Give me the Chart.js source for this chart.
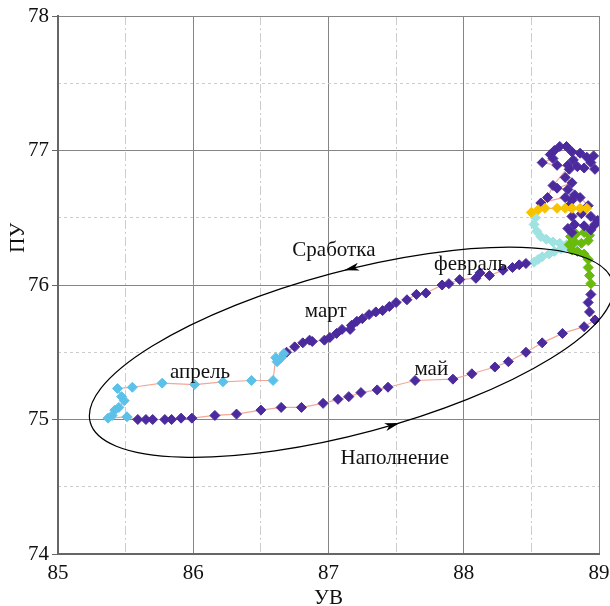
<!DOCTYPE html>
<html lang="ru">
<head>
<meta charset="utf-8">
<title>УВ – ПУ</title>
<script src="https://cdn.jsdelivr.net/npm/chart.js@4.4.0/dist/chart.umd.min.js"></script>
<style>
    html, body { margin: 0; padding: 0; background: #fff; }
    #loopChart { display: block; }
</style>
</head>
<body>
<canvas id="loopChart" width="610" height="606"></canvas>
<script>
// Tick values
const uvTicks = [85, 86, 87, 88, 89];
const puTicks = [74, 75, 76, 77, 78];
const uvMinor = [85.5, 86.5, 87.5, 88.5];
const puMinor = [74.5, 75.5, 76.5, 77.5];

// УВ / ПУ readings, in time order, split by period
const uvJan = [88.53, 88.52, 88.54, 88.57, 88.61, 88.66, 88.71, 88.76, 88.81, 88.77,
               88.72, 88.67, 88.63, 88.58, 88.55, 88.52];
const puJan = [76.50, 76.45, 76.40, 76.36, 76.34, 76.32, 76.31, 76.30, 76.30, 76.28,
               76.27, 76.25, 76.23, 76.21, 76.19, 76.17];

const uvFebMar = [88.46, 88.41, 88.36, 88.29, 88.19, 88.12, 88.09, 87.97, 87.89, 87.84,
                  87.72, 87.65, 87.58, 87.50, 87.45, 87.40, 87.35, 87.30, 87.25, 87.21,
                  87.17, 87.16, 87.10, 87.06, 87.01, 86.97, 86.88, 86.86, 86.81, 86.75, 86.69];
const puFebMar = [76.16, 76.15, 76.13, 76.11, 76.07, 76.09, 76.05, 76.04, 76.01, 76.00,
                  75.94, 75.93, 75.89, 75.87, 75.84, 75.81, 75.80, 75.78, 75.75, 75.73,
                  75.70, 75.67, 75.67, 75.64, 75.61, 75.59, 75.58, 75.59, 75.57, 75.54, 75.50];

const uvApr = [86.67, 86.65, 86.62, 86.61, 86.59, 86.43, 86.22, 86.01, 85.77, 85.55,
               85.44, 85.47, 85.49, 85.45, 85.42, 85.40, 85.37, 85.51];
const puApr = [75.49, 75.46, 75.43, 75.46, 75.29, 75.29, 75.28, 75.26, 75.27, 75.24,
               75.23, 75.17, 75.14, 75.09, 75.07, 75.03, 75.01, 75.02];

const uvMay = [85.59, 85.65, 85.70, 85.79, 85.84, 85.91, 85.99, 86.16, 86.32, 86.50,
               86.65, 86.80, 86.96, 87.07, 87.15, 87.24, 87.36, 87.44, 87.64, 87.92,
               88.06, 88.23, 88.33, 88.46, 88.58, 88.73, 88.89, 88.97, 88.93, 88.92, 88.94];
const puMay = [75.00, 75.00, 75.00, 75.00, 75.00, 75.01, 75.01, 75.03, 75.04, 75.07,
               75.09, 75.09, 75.12, 75.15, 75.17, 75.20, 75.22, 75.24, 75.29, 75.30,
               75.34, 75.39, 75.43, 75.50, 75.57, 75.64, 75.69, 75.74, 75.80, 75.87, 75.93];

const uvJun = [88.94, 88.93, 88.92, 88.92, 88.89, 88.84, 88.80, 88.78, 88.82, 88.87,
               88.92, 88.93, 88.89, 88.83, 88.79];
const puJun = [76.01, 76.07, 76.13, 76.19, 76.23, 76.25, 76.26, 76.30, 76.32, 76.31,
               76.33, 76.37, 76.39, 76.38, 76.36];

const uvJulNov = [88.77, 88.80, 88.82, 88.89, 88.94, 88.97, 88.99, 88.94, 88.87, 88.80,
                  88.78, 88.75, 88.80, 88.77, 88.69, 88.80, 88.75, 88.78, 88.77, 88.81,
                  88.80, 88.76, 88.71, 88.67, 88.64, 88.66, 88.58, 88.69, 88.84, 88.89,
                  88.97, 88.94, 88.96, 88.91, 88.86, 88.66, 88.62, 88.57, 88.82, 88.86, 88.92];
const puJulNov = [76.42, 76.39, 76.45, 76.44, 76.41, 76.45, 76.48, 76.51, 76.53, 76.51,
                  76.59, 76.65, 76.63, 76.71, 76.72, 76.76, 76.80, 76.86, 76.89, 76.93,
                  76.99, 77.03, 77.03, 77.00, 76.97, 76.94, 76.91, 76.89, 76.88, 76.87,
                  76.86, 76.91, 76.96, 76.95, 76.98, 76.74, 76.65, 76.61, 76.67, 76.65, 76.59];

const uvDec = [88.91, 88.86, 88.80, 88.75, 88.69, 88.60, 88.55, 88.50];
const puDec = [76.57, 76.57, 76.57, 76.57, 76.57, 76.57, 76.56, 76.54];

// Marker colour for each period
const periods = [
    { uv: uvJan,    pu: puJan,    color: '#9fe2e2' },
    { uv: uvFebMar, pu: puFebMar, color: '#4b2a9e' },
    { uv: uvApr,    pu: puApr,    color: '#5cc1e8' },
    { uv: uvMay,    pu: puMay,    color: '#4b2a9e' },
    { uv: uvJun,    pu: puJun,    color: '#68bb0c' },
    { uv: uvJulNov, pu: puJulNov, color: '#4b2a9e' },
    { uv: uvDec,    pu: puDec,    color: '#f7c300' },
];

const points = [];
const pointColors = [];
periods.forEach(p => {
    p.uv.forEach((v, i) => {
        points.push({ x: v, y: p.pu[i] });
        pointColors.push(p.color);
    });
});

// Hysteresis loop outline and its captions
const loopCenter = [87.17, 75.50];
const loopRadii = [2.0, 0.6];
const loopTilt = 15;
const arrowAngles = [-87, 84];
const captions = [
    { text: 'Сработка',   uv: 87.04, pu: 76.26 },
    { text: 'февраль',    uv: 88.05, pu: 76.15 },
    { text: 'март',       uv: 86.98, pu: 75.80 },
    { text: 'апрель',     uv: 86.05, pu: 75.35 },
    { text: 'май',        uv: 87.76, pu: 75.37 },
    { text: 'Наполнение', uv: 87.49, pu: 74.71 },
];

const FONT = '"Liberation Serif", "Times New Roman", serif';

const loopDecor = {
    id: 'loopDecor',
    afterDatasetsDraw(chart) {
        const { ctx, scales: { x, y } } = chart;
        const cx = x.getPixelForValue(loopCenter[0]);
        const cy = y.getPixelForValue(loopCenter[1]);
        const k = x.getPixelForValue(86) - x.getPixelForValue(85);
        const rx = loopRadii[0] * k;
        const ry = loopRadii[1] * k;
        const rot = -loopTilt * Math.PI / 180;

        ctx.save();
        ctx.strokeStyle = '#000';
        ctx.fillStyle = '#000';
        ctx.lineWidth = 1.2;
        ctx.beginPath();
        ctx.ellipse(cx, cy, rx, ry, rot, 0, Math.PI * 2);
        ctx.stroke();

        // arrowheads point the way the loop is travelled
        const at = t => [
            cx + rx * Math.cos(t) * Math.cos(rot) - ry * Math.sin(t) * Math.sin(rot),
            cy + rx * Math.cos(t) * Math.sin(rot) + ry * Math.sin(t) * Math.cos(rot)
        ];
        arrowAngles.forEach(deg => {
            const t = deg * Math.PI / 180;
            const [px, py] = at(t);
            const [qx, qy] = at(t + 0.01);
            let dx = px - qx, dy = py - qy;
            const len = Math.hypot(dx, dy);
            dx /= len; dy /= len;
            ctx.beginPath();
            ctx.moveTo(px, py);
            ctx.lineTo(px - dx * 15 - dy * 4, py - dy * 15 + dx * 4);
            ctx.lineTo(px - dx * 11, py - dy * 11);
            ctx.lineTo(px - dx * 15 + dy * 4, py - dy * 15 - dx * 4);
            ctx.closePath();
            ctx.fill();
        });

        ctx.font = '21px ' + FONT;
        ctx.fillStyle = '#111';
        ctx.textAlign = 'center';
        ctx.textBaseline = 'middle';
        captions.forEach(c => {
            ctx.fillText(c.text, x.getPixelForValue(c.uv), y.getPixelForValue(c.pu));
        });
        ctx.restore();
    },
    afterDraw(chart) {
        const { ctx, chartArea } = chart;
        ctx.save();
        ctx.font = '21px ' + FONT;
        ctx.fillStyle = '#111';
        ctx.textAlign = 'center';
        ctx.textBaseline = 'middle';
        ctx.fillText('УВ', (chartArea.left + chartArea.right) / 2, chartArea.bottom + 44);
        ctx.translate(18, chartArea.top + 0.412 * (chartArea.bottom - chartArea.top));
        ctx.rotate(-Math.PI / 2);
        ctx.fillText('ПУ', 0, 0);
        ctx.restore();
    }
};

const tickFont = { family: FONT, size: 21 };

new Chart(document.getElementById('loopChart'), {
    type: 'scatter',
    data: {
        datasets: [{
            data: points,
            showLine: true,
            borderColor: '#f4a797',
            borderWidth: 1.2,
            tension: 0,
            pointStyle: 'rectRot',
            pointRadius: 5,
            pointHoverRadius: 5,
            pointBackgroundColor: pointColors,
            pointBorderColor: pointColors,
            pointBorderWidth: 1,
        }]
    },
    options: {
        responsive: false,
        animation: false,
        events: [],
        layout: { padding: { top: 16, right: 11, bottom: 0, left: 0 } },
        plugins: { legend: { display: false }, tooltip: { enabled: false } },
        scales: {
            x: {
                type: 'linear', position: 'bottom', min: 85, max: 89,
                afterBuildTicks: s => { s.ticks = uvTicks.map(v => ({ value: v })); },
                afterFit: s => { s.height = 52; s.paddingLeft = 0; s.paddingRight = 0; },
                ticks: { font: tickFont, color: '#111', padding: 7, maxRotation: 0 },
                grid: { color: '#858585', lineWidth: 1, drawTicks: false },
                border: { color: '#666', width: 2 },
            },
            xMinor: {
                type: 'linear', position: 'bottom', min: 85, max: 89,
                afterBuildTicks: s => { s.ticks = uvMinor.map(v => ({ value: v })); },
                afterFit: s => { s.height = 0; s.paddingLeft = 0; s.paddingRight = 0; },
                ticks: { display: false },
                grid: { color: '#cccccc', lineWidth: 1, drawTicks: false },
                border: { display: false, dash: [9, 3, 2, 3] },
            },
            y: {
                type: 'linear', position: 'left', min: 74, max: 78,
                afterBuildTicks: s => { s.ticks = puTicks.map(v => ({ value: v })); },
                afterFit: s => { s.width = 58; },
                ticks: { font: tickFont, color: '#111', padding: 3 },
                grid: { color: '#858585', lineWidth: 1, tickLength: 6, tickColor: '#666' },
                border: { color: '#666', width: 2 },
            },
            yMinor: {
                type: 'linear', position: 'left', min: 74, max: 78,
                afterBuildTicks: s => { s.ticks = puMinor.map(v => ({ value: v })); },
                afterFit: s => { s.width = 0; },
                ticks: { display: false },
                grid: { color: '#cccccc', lineWidth: 1, drawTicks: false },
                border: { display: false, dash: [3, 3] },
            },
        }
    },
    plugins: [loopDecor]
});
</script>
</body>
</html>
